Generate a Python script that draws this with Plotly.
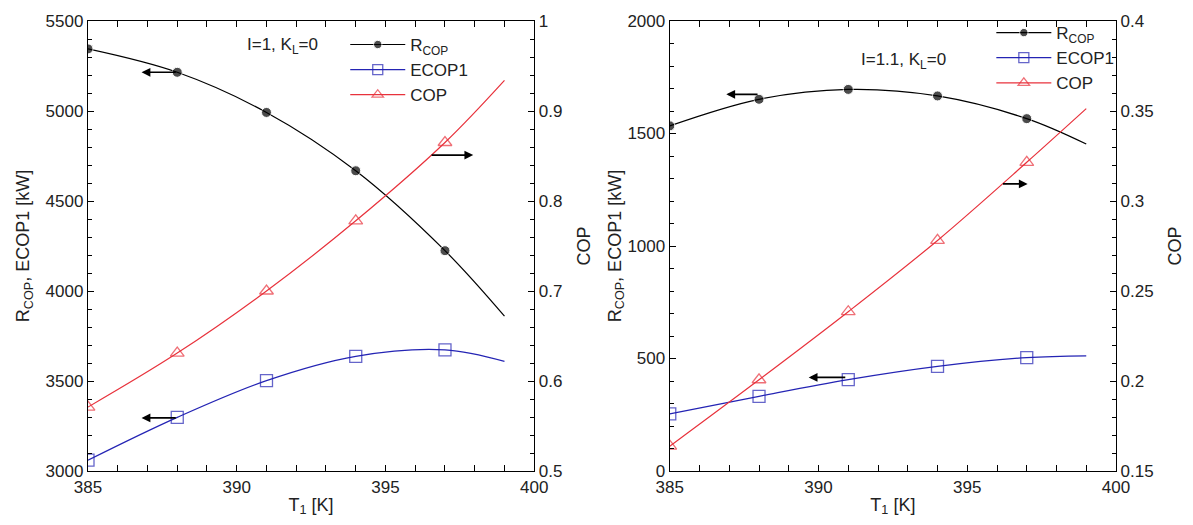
import plotly.graph_objects as go

# ---- data ----
T = [385, 388, 391, 394, 397, 399]          # last point: end of fitted curve (no marker)
marker_sizes_c = [10, 10, 10, 10, 10, 0]
marker_sizes_s = [12, 12, 12, 12, 12, 0]

# Left panel: I=1, K_L=0
R_cop_1 = [5345, 5215, 4992, 4668, 4224, 3860]
ecop1_1 = [3060, 3298, 3502, 3637, 3673, 3609]
cop_1 = [0.571, 0.631, 0.700, 0.778, 0.865, 0.934]

# Right panel: I=1.1, K_L=0
R_cop_2 = [1534, 1652, 1696, 1667, 1566, 1453]
ecop1_2 = [254, 332, 406, 465, 504, 512]
cop_2 = [0.1638, 0.2007, 0.2385, 0.2781, 0.3215, 0.3513]

BLACK = "#000000"
BLUE = "#2424b4"
RED = "#e8323c"
FONT = "Liberation Sans, Arial, sans-serif"

fig = go.Figure()

def add_panel(xa, ya, ya2, legend, R, E, C):
    fig.add_trace(go.Scatter(
        x=T, y=R, name="R<sub>COP</sub>", mode="lines+markers",
        line=dict(color=BLACK, width=1.2, shape="spline"),
        marker=dict(symbol="circle", size=marker_sizes_c, color=BLACK),
        xaxis=xa, yaxis=ya, legend=legend))
    fig.add_trace(go.Scatter(
        x=T, y=E, name="ECOP1", mode="lines+markers",
        line=dict(color=BLUE, width=1.2, shape="spline"),
        marker=dict(symbol="square-open", size=marker_sizes_s, color=BLUE, line=dict(width=1.3)),
        xaxis=xa, yaxis=ya, legend=legend))
    fig.add_trace(go.Scatter(
        x=T, y=C, name="COP", mode="lines+markers",
        line=dict(color=RED, width=1.2, shape="spline"),
        marker=dict(symbol="triangle-up-open", size=marker_sizes_s, color=RED, line=dict(width=1.3)),
        xaxis=xa, yaxis=ya2, legend=legend))

add_panel("x", "y", "y2", "legend", R_cop_1, ecop1_1, cop_1)
add_panel("x3", "y3", "y4", "legend2", R_cop_2, ecop1_2, cop_2)

axis_common = dict(showline=True, linecolor="black", linewidth=1.3, ticks="inside",
                   ticklen=6, tickwidth=1.2, tickcolor="black", showgrid=False, zeroline=False,
                   tickfont=dict(size=17, color="#222"),
                   title_font=dict(size=18, color="#222"))

L = 88; R = 66; TOP = 18; B = 54
W = 1193; H = 525
pw = W - L - R
ph = H - TOP - B

def xd(p0, p1):
    return [(p0 - L) / pw, (p1 - L) / pw]

fig.update_layout(
    width=W, height=H, margin=dict(l=L, r=R, t=TOP, b=B),
    paper_bgcolor="white", plot_bgcolor="white",
    font=dict(family=FONT, size=17, color="#222"),
    xaxis=dict(domain=xd(88, 539), range=[385, 400], tick0=385, dtick=5, anchor="y",
               mirror="allticks", title=dict(text="T<sub>1</sub> [K]", standoff=2),
               minor=dict(dtick=1, ticks="inside", ticklen=4, tickcolor="black"), **axis_common),
    yaxis=dict(domain=[0, 1], range=[3000, 5500], dtick=500, anchor="x",
               title=dict(text="R<sub>COP</sub>, ECOP1 [kW]", standoff=11),
               minor=dict(dtick=100, ticks="inside", ticklen=4, tickcolor="black"), **axis_common),
    yaxis2=dict(overlaying="y", side="right", range=[0.5, 1.0], dtick=0.1, anchor="x",
                title=dict(text="COP"),
                minor=dict(dtick=0.02, ticks="inside", ticklen=4, tickcolor="black"), **axis_common),
    xaxis3=dict(domain=xd(676, 1127), range=[385, 400], tick0=385, dtick=5, anchor="y3",
                mirror="allticks", title=dict(text="T<sub>1</sub> [K]", standoff=2),
                minor=dict(dtick=1, ticks="inside", ticklen=4, tickcolor="black"), **axis_common),
    yaxis3=dict(domain=[0, 1], range=[0, 2000], dtick=500, anchor="x3",
                title=dict(text="R<sub>COP</sub>, ECOP1 [kW]", standoff=0),
                minor=dict(dtick=100, ticks="inside", ticklen=4, tickcolor="black"), **axis_common),
    yaxis4=dict(overlaying="y3", side="right", range=[0.15, 0.4], dtick=0.05, anchor="x3",
                title=dict(text="COP"),
                minor=dict(dtick=0.01, ticks="inside", ticklen=4, tickcolor="black"), **axis_common),
    legend=dict(x=(348 - L) / pw, y=(H - B - 24) / ph, xanchor="left", yanchor="top",
                bgcolor="rgba(0,0,0,0)", font=dict(size=17, color="#222"), itemwidth=55,
                tracegroupgap=0),
    legend2=dict(x=(1001 - L) / pw, y=(H - B - 12) / ph, xanchor="left", yanchor="top",
                 bgcolor="rgba(0,0,0,0)", font=dict(size=17, color="#222"), itemwidth=55,
                 tracegroupgap=0),
    showlegend=True,
)

arrow = dict(showarrow=True, arrowhead=2, arrowsize=1.1, arrowwidth=1.6, arrowcolor="black",
             text="")
# left panel arrows
fig.add_annotation(x=386.8, y=5215, ax=388, ay=5215, xref="x", yref="y", axref="x", ayref="y", **arrow)
fig.add_annotation(x=386.8, y=3295, ax=388, ay=3295, xref="x", yref="y", axref="x", ayref="y", **arrow)
fig.add_annotation(x=397.95, y=0.851, ax=396.5, ay=0.851, xref="x", yref="y2", axref="x", ayref="y2", **arrow)
# right panel arrows
fig.add_annotation(x=386.9, y=1674, ax=388, ay=1674, xref="x3", yref="y3", axref="x3", ayref="y3", **arrow)
fig.add_annotation(x=389.67, y=416, ax=390.95, ay=416, xref="x3", yref="y3", axref="x3", ayref="y3", **arrow)
fig.add_annotation(x=397.03, y=0.3095, ax=396.15, ay=0.3095, xref="x3", yref="y4", axref="x3", ayref="y4", **arrow)

fig.add_annotation(x=391.53, y=5362, xref="x", yref="y", text="I=1, K<sub>L</sub>=0",
                   showarrow=False, font=dict(size=17, color="#222"))
fig.add_annotation(x=392.87, y=1823, xref="x3", yref="y3", text="I=1.1, K<sub>L</sub>=0",
                   showarrow=False, font=dict(size=17, color="#222"))

fig.write_html("out.html")
